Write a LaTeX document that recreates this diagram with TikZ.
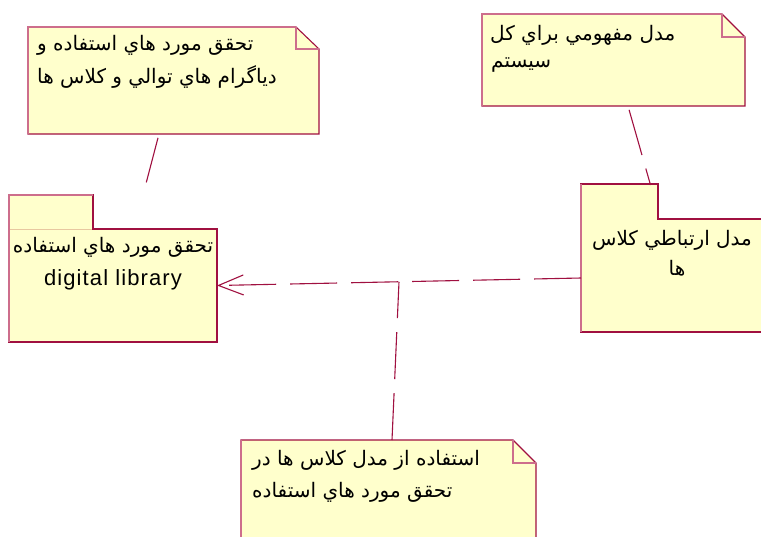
\documentclass[tikz,border=0pt]{standalone}
\usepackage{fontspec}
\setmainfont{Liberation Sans}
\newfontfamily\arabicfont[Script=Arabic]{DejaVu Sans}
\newfontfamily\latinfont[LetterSpace=5]{Liberation Sans}
\TeXXeTstate=1
\usetikzlibrary{arrows.meta,calc}
\definecolor{umlline}{RGB}{160,16,64}
\definecolor{umllight}{RGB}{205,110,140}
\definecolor{umlfill}{RGB}{255,255,204}
\definecolor{tabline}{RGB}{232,200,160}
\tikzset{
  shapebox/.style={draw=none,fill=none,inner sep=0pt,outer sep=0pt,rectangle},
  outline/.style={draw=umlline,line width=1.1pt,fill=umlfill,line join=miter},
  lightedge/.style={draw=umllight,line width=1.1pt},
  conn/.style={draw=umlline,line width=1.1pt,dash pattern=on 47pt off 14pt},
  artext/.style={inner sep=0pt,anchor=west,font=\arabicfont\fontsize{20}{24}\selectfont},
  arctext/.style={inner sep=0pt,anchor=center,font=\arabicfont\fontsize{20}{24}\selectfont},
}
\begin{document}
\begin{tikzpicture}[x=1pt,y=-1pt]
\useasboundingbox (0,0) rectangle (761,536);
\fill[white] (0,0) rectangle (761,536);
% ---------- note 1 ----------
\node[shapebox,minimum width=291pt,minimum height=107pt] (n1) at (173.5,80.5) {};
\path[outline] (n1.north west) -- ([xshift=-23pt]n1.north east) -- ([yshift=-22pt]n1.north east)
  -- (n1.south east) -- (n1.south west) -- cycle;
\draw[lightedge] (n1.south west) -- (n1.north west) -- ([xshift=-23pt]n1.north east);
\draw[lightedge] ([xshift=-23pt]n1.north east) |- ([yshift=-22pt]n1.north east);
\node[artext] (n1a) at (37,45) {\beginR تحقق مورد هاي استفاده و\endR};
\node[artext] (n1b) at (37,77) {\beginR دياگرام هاي توالي و كلاس ها\endR};
% ---------- note 2 ----------
\node[shapebox,minimum width=263pt,minimum height=92pt] (n2) at (613.5,60) {};
\path[outline] (n2.north west) -- ([xshift=-23pt]n2.north east) -- ([yshift=-23pt]n2.north east)
  -- (n2.south east) -- (n2.south west) -- cycle;
\draw[lightedge] (n2.south west) -- (n2.north west) -- ([xshift=-23pt]n2.north east);
\draw[lightedge] ([xshift=-23pt]n2.north east) |- ([yshift=-23pt]n2.north east);
\node[artext] (n2a) at (490,35) {\beginR مدل مفهومي براي كل\endR};
\node[artext] (n2b) at (491,65) {\beginR سيستم\endR};
% ---------- note 3 ----------
\node[shapebox,minimum width=295pt,minimum height=110pt] (n3) at (388.5,495) {};
\path[outline] (n3.north west) -- ([xshift=-23pt]n3.north east) -- ([yshift=-23pt]n3.north east)
  -- (n3.south east) -- (n3.south west) -- cycle;
\draw[lightedge] (n3.south west) -- (n3.north west);
\draw[lightedge] ([xshift=-23pt]n3.north east) |- ([yshift=-23pt]n3.north east);
\node[artext] (n3a) at (252,460) {\beginR استفاده از مدل كلاس ها در\endR};
\node[artext] (n3b) at (252,492) {\beginR تحقق مورد هاي استفاده\endR};
% ---------- package 1 ----------
\node[shapebox,minimum width=84pt,minimum height=34pt] (p1tab) at (51,212) {};
\node[shapebox,minimum width=208pt,minimum height=113pt] (p1) at (113,285.5) {};
\path[outline] (p1tab.south west) |- (p1tab.north east) -- (p1tab.south east) -| (p1.south east) -| cycle;
\draw[lightedge] (p1.south west) -- (p1tab.north west) -- (p1tab.north east);
\draw[tabline,line width=0.8pt] ([xshift=0.6pt]p1tab.south west) -- ([xshift=-0.6pt]p1tab.south east);
\node[arctext] (p1a) at (113,247) {\beginR تحقق مورد هاي استفاده\endR};
\node[inner sep=0pt,anchor=center,font=\latinfont\fontsize{22}{26}\selectfont] (p1b) at (113,280) {digital library};
% ---------- package 2 ----------
\node[shapebox,minimum width=77pt,minimum height=35pt] (p2tab) at (619.5,201.5) {};
\node[shapebox,minimum width=194pt,minimum height=113pt] (p2) at (678,275.5) {};
\path[outline] (p2tab.south west) |- (p2tab.north east) -- (p2tab.south east) -| (p2.south east) -| cycle;
\draw[lightedge] (p2.south west) -- (p2tab.north west);
\node[arctext] (p2a) at (672,240) {\beginR مدل ارتباطي كلاس\endR};
\node[arctext] (p2b) at (677,268) {\beginR ها\endR};
% ---------- connectors ----------
\coordinate (p2w) at ([yshift=-2.5pt]p2.west);
\coordinate (j) at ($(p2w)!0.5!(p1.east)$);
\draw[conn,-{Straight Barb[length=25pt,width=20pt,line width=1.1pt]}] (p2w) -- (p1.east);
\coordinate (n3t) at ([xshift=3.5pt]n3.north);
\draw[conn] (n3t) -- (j);
\coordinate (n2c) at (628,106);
\coordinate (p2c) at (650.5,185);
\draw[conn,shorten <=4pt] (n2c) -- (p2c);
\coordinate (n1c) at (159,134);
\coordinate (p1c) at (143,195);
\draw[umlline,line width=1.1pt,shorten <=4pt,shorten >=13pt] (n1c) -- (p1c);
\end{tikzpicture}
\end{document}
